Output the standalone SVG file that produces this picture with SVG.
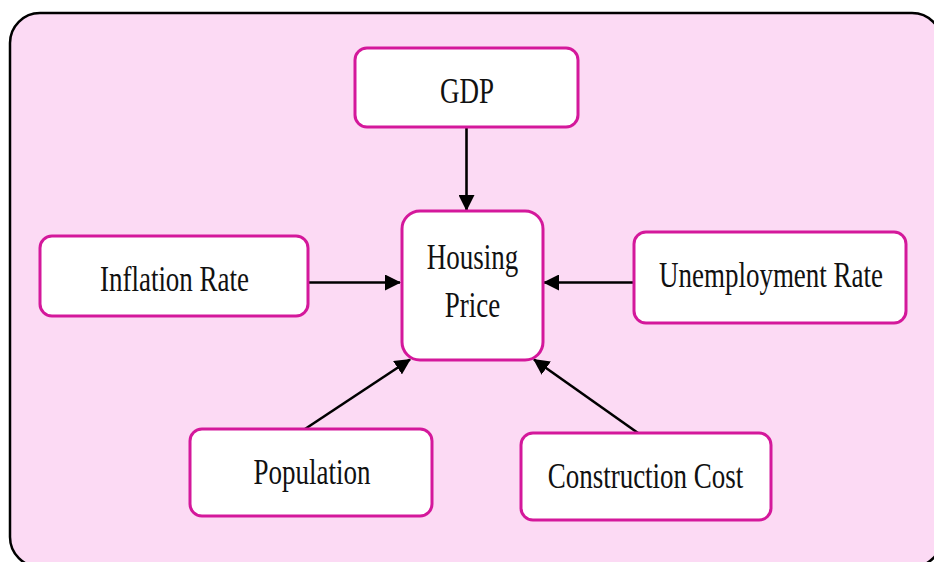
<svg xmlns="http://www.w3.org/2000/svg" width="934" height="562" viewBox="0 0 934 562">
  <style>
    .frame { fill: #FCDAF4; stroke: #000; stroke-width: 2.5; }
    .node rect { fill: #FFFFFF; stroke: #D4189B; stroke-width: 3; }
    .node text { font-family: "Liberation Serif", "Times New Roman", serif; font-size: 36px; fill: #111; text-anchor: middle; }
    .edge { stroke: #000; stroke-width: 2.6; fill: none; marker-end: url(#arrow); }
  </style>
  <defs>
    <marker id="arrow" markerUnits="userSpaceOnUse" markerWidth="16" markerHeight="16" refX="15" refY="8" orient="auto">
      <path d="M0,0 L16,8 L0,16 Z" fill="#000"/>
    </marker>
  </defs>

  <!-- background panel -->
  <rect class="frame" x="10" y="13" width="932" height="554" rx="30" ry="30"/>

  <!-- connectors -->
  <g id="connectors">
    <line class="edge" x1="466.5" y1="127" x2="466.5" y2="210"/>
    <line class="edge" x1="308" y1="282.5" x2="400" y2="282.5"/>
    <line class="edge" x1="634" y1="282.5" x2="544" y2="282.5"/>
    <line class="edge" x1="305" y1="429" x2="410" y2="359.5"/>
    <line class="edge" x1="638" y1="433" x2="534" y2="359.5"/>
  </g>

  <!-- nodes -->
  <g id="gdp" class="node">
    <rect x="355" y="48" width="223" height="79" rx="12"/>
    <text transform="translate(467,103) scale(0.75,1)">GDP</text>
  </g>

  <g id="housing-price" class="node">
    <rect x="402" y="211" width="141" height="149" rx="18"/>
    <text transform="translate(472.5,269) scale(0.75,1)">Housing</text>
    <text transform="translate(472.5,317) scale(0.75,1)">Price</text>
  </g>

  <g id="inflation-rate" class="node">
    <rect x="40" y="236" width="268" height="80" rx="12"/>
    <text transform="translate(174.5,291) scale(0.75,1)">Inflation Rate</text>
  </g>

  <g id="unemployment-rate" class="node">
    <rect x="634" y="232" width="272" height="91" rx="12"/>
    <text transform="translate(771,287) scale(0.75,1)">Unemployment Rate</text>
  </g>

  <g id="population" class="node">
    <rect x="190" y="429" width="242" height="87" rx="12"/>
    <text transform="translate(312,484) scale(0.75,1)">Population</text>
  </g>

  <g id="construction-cost" class="node">
    <rect x="521" y="433" width="250" height="87" rx="12"/>
    <text transform="translate(645.5,488) scale(0.75,1)">Construction Cost</text>
  </g>
</svg>
